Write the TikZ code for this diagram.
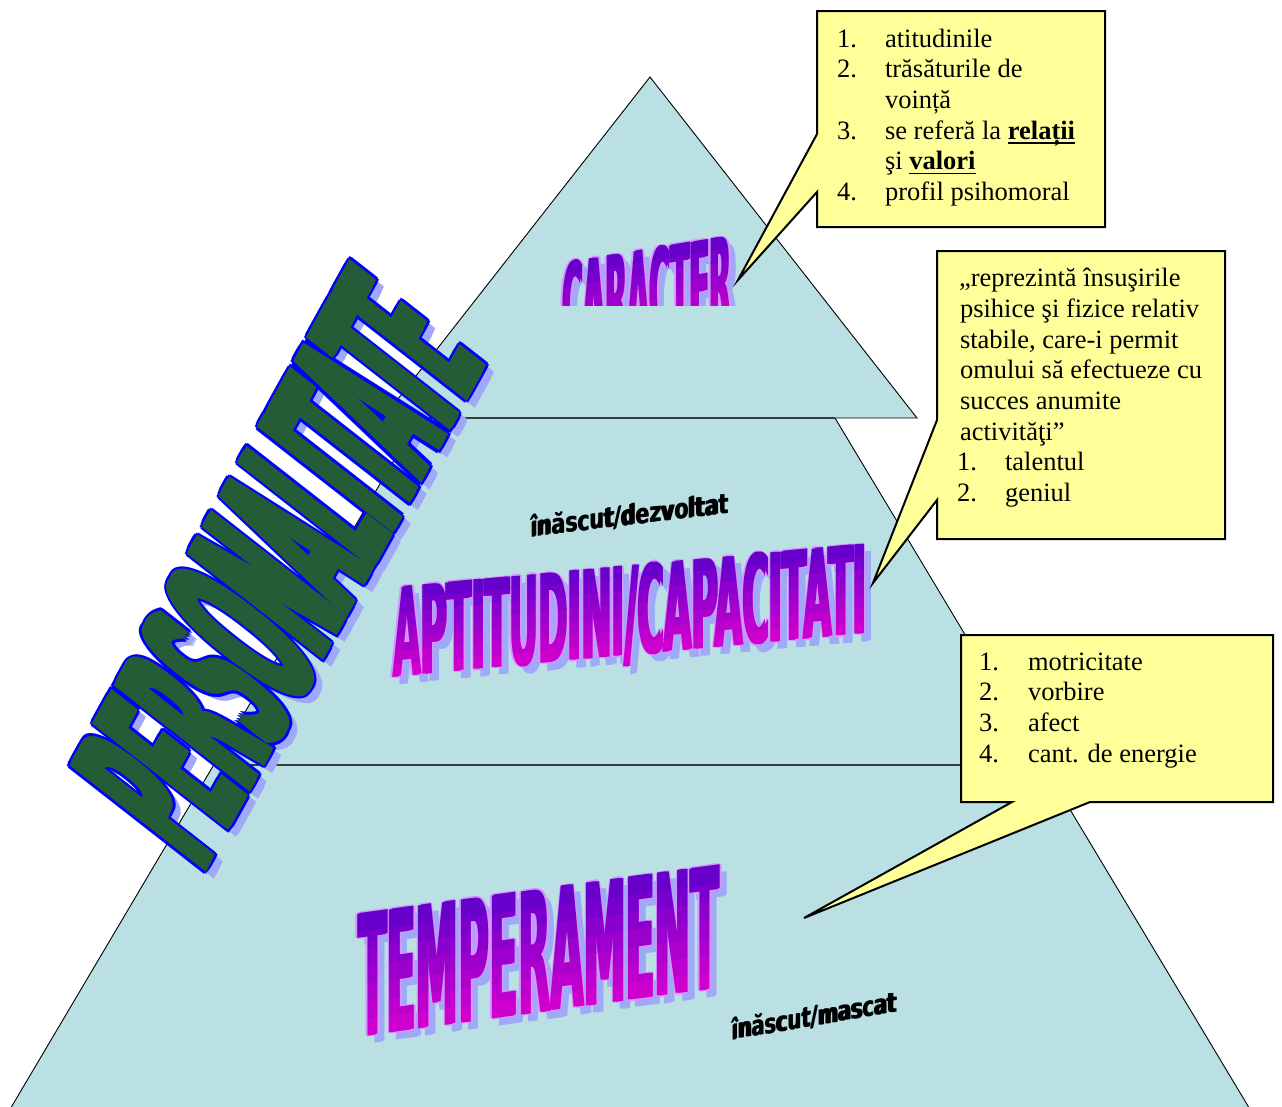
\documentclass[tikz,border=0pt]{standalone}
\usepackage{fontspec}
\usepackage{graphicx}
\setmainfont{Liberation Serif}
\newfontfamily\wafont{DejaVu Sans}
\definecolor{pyr}{RGB}{186,224,227}
\definecolor{note}{RGB}{255,255,153}
\definecolor{waviol}{RGB}{104,0,204}
\definecolor{wamag}{RGB}{206,0,206}
\definecolor{washad}{RGB}{160,168,248}
\definecolor{waline}{RGB}{214,150,255}
\definecolor{marble}{RGB}{36,92,55}
\definecolor{edgegray}{RGB}{55,60,60}
\newcommand\myul[1]{\setbox0\hbox{#1}\rlap{\rule[-4.5pt]{\wd0}{1.8pt}}\box0}
% overlapping copies of one text inside one box (used to make strokes heavier)
\newcommand\offcopies[2]{\foreach \mdx/\mdy in {#1}{\rlap{\hspace*{\mdx pt}\raisebox{\mdy pt}{#2}}}\phantom{#2}}
\tikzset{
  wabox/.style={anchor=base west, inner sep=0pt, outer sep=0pt, transform shape},
  notebox/.style={fill=note, draw=black, line width=2pt, line join=miter},
  ntext/.style={anchor=base west, inner sep=0pt, outer sep=0pt, font=\fontsize{26.5}{30.7}\selectfont},
  level/.style={fill=pyr, draw=black, line width=0.9pt, line join=miter},
}
% #1 name, #2 x, #3 y, #4 slant, #5 W, #6 H, #7 text
\newcommand\purpleart[7]{%
  \begin{scope}[shift={(#2,#3)}, y=1pt, yslant=#4]
    \node[wabox, text=washad] (#1-shadow) at (7,-8)
      {\offcopies{0/0,2.8/0}{\resizebox{#5pt}{#6pt}{\wafont\bfseries #7}}};
    \node[wabox, text=waline] (#1-line) at (0,0)
      {\offcopies{-1.3/0,4.1/0,0.4/1.3,0.4/-1.3,2.4/1.3,2.4/-1.3}{\resizebox{#5pt}{#6pt}{\wafont\bfseries #7}}};
    \foreach \k in {0,...,6}{
      \pgfmathtruncatemacro\pct{100*\k/6}
      \pgfmathsetmacro\ya{#6*\k/7-(\k==0)*40}
      \pgfmathsetmacro\yb{#6*(\k+1)/7+(\k==6)*40}
      \begin{scope}
        \clip (-10,\ya) rectangle ({#5+20},\yb);
        \colorlet{bandc}{waviol!\pct!wamag}
        \node[wabox, text=bandc] (#1-band\k) at (0,0)
          {\offcopies{0/0,2.8/0}{\resizebox{#5pt}{#6pt}{\wafont\bfseries #7}}};
      \end{scope}}
  \end{scope}}
\begin{document}
\begin{tikzpicture}[x=1pt,y=-1pt]
\useasboundingbox (0,0) rectangle (1282,1106);
\fill[white] (0,0) rectangle (1282,1106);
\clip (0,0) rectangle (1282,1106);
% pyramid
\coordinate (apex) at (650,77);
\coordinate (tl) at (383,418);
\coordinate (tr) at (917,418);
\coordinate (ml) at (419,418);
\coordinate (mr) at (835,418);
\coordinate (bl) at (213.7,765);
\coordinate (br) at (1043.3,765);
\coordinate (fl) at (8.4,1112);
\coordinate (fr) at (1251.6,1112);
\draw[level] (ml) -- (mr) -- (br) -- (bl) -- cycle;
\draw[level] (bl) -- (br) -- (fr) -- (fl) -- cycle;
\draw[level] (apex) -- (tr) -- (tl) -- cycle;
\draw[edgegray, line width=2pt] (ml) -- (mr);
\draw[edgegray, line width=1.8pt] (bl) -- (br);
% word art on the levels
\begin{scope}
  \clip (540,200) rectangle (760,305);
  \purpleart{car}{561}{352}{0.164}{169}{90}{CARACTER}
\end{scope}
\purpleart{apt}{392}{677}{0.092}{473}{91}{APTITUDINI/CAPACITATI}
\purpleart{tem}{357}{1037}{0.135}{361}{123}{TEMPERAMENT}
\begin{scope}[shift={(530,537)}, y=1pt, yslant=0.12]
  \node[wabox] (lab1) at (0,0) {\offcopies{0/0,1.5/0}{\resizebox{198pt}{22pt}{\wafont\bfseries înăscut/dezvoltat}}};
\end{scope}
\begin{scope}[shift={(731,1040)}, y=1pt, yslant=0.17]
  \node[wabox] (lab2) at (0,0) {\offcopies{0/0,1.5/0}{\resizebox{165pt}{22pt}{\wafont\bfseries înăscut/mascat}}};
\end{scope}
% PERSONALITATE
\begin{scope}[shift={(211,884)}, y=1pt, rotate=52, yslant=0.158]
  \node[wabox, text=washad] (pers-shadow) at (0,0)
    {\offcopies{0/0,2.5/0,5/0,7.5/0}{\resizebox{575pt}{176pt}{\wafont\bfseries PERSONALITATE}}};
\end{scope}
\begin{scope}[shift={(203,877)}, y=1pt, rotate=52, yslant=0.158]
  \node[wabox, text=blue] (pers-edge) at (0,0)
    {\offcopies{-2.5/0,10/0,-1.5/2,9/2,-1.5/-2,9/-2,1.5/2.5,4.5/2.5,7/2.5,1.5/-2.5,4.5/-2.5,7/-2.5}{\resizebox{575pt}{176pt}{\wafont\bfseries PERSONALITATE}}};
  \node[wabox, text=marble] (pers) at (0,0)
    {\offcopies{0/0,2.5/0,5/0,7.5/0}{\resizebox{575pt}{176pt}{\wafont\bfseries PERSONALITATE}}};
\end{scope}
% callouts
\draw[notebox] (817,11) -- (1105,11) -- (1105,227) -- (817,227) -- (817,192) -- (738,280) -- (817,134) -- cycle;
\draw[notebox] (937,251) -- (1225,251) -- (1225,539) -- (937,539) -- (937,500) -- (873,583) -- (937,420) -- cycle;
\draw[notebox] (961,635) -- (1273,635) -- (1273,802) -- (1090,802) -- (804,918) -- (1012,802) -- (961,802) -- cycle;
% callout 1 text
\node[ntext] (c1n1) at (837,47) {1.};
\node[ntext] (c1t1) at (885,47) {atitudinile};
\node[ntext] (c1n2) at (837,77.7) {2.};
\node[ntext] (c1t2) at (885,77.7) {trăsăturile de};
\node[ntext] (c1t2b) at (885,108.4) {voință};
\node[ntext] (c1n3) at (837,139.1) {3.};
\node[ntext] (c1t3) at (885,139.1) {se referă la \textbf{\myul{relații}}};
\node[ntext] (c1t3b) at (885,169.8) {şi \textbf{\myul{valori}}};
\node[ntext] (c1n4) at (837,200.5) {4.};
\node[ntext] (c1t4) at (885,200.5) {profil psihomoral};
% callout 2 text
\node[ntext] (c2l1) at (959,286.7) {„reprezintă însuşirile};
\node[ntext] (c2l2) at (960,317.4) {psihice şi fizice relativ};
\node[ntext] (c2l3) at (960,348.1) {stabile, care-i permit};
\node[ntext] (c2l4) at (960,378.8) {omului să efectueze cu};
\node[ntext] (c2l5) at (960,409.5) {succes anumite};
\node[ntext] (c2l6) at (960,440.2) {activităţi”};
\node[ntext] (c2n1) at (957,470.9) {1.};
\node[ntext] (c2t1) at (1005,470.9) {talentul};
\node[ntext] (c2n2) at (957,501.6) {2.};
\node[ntext] (c2t2) at (1005,501.6) {geniul};
% callout 3 text
\node[ntext] (c3n1) at (979,670) {1.};
\node[ntext] (c3t1) at (1028,670) {motricitate};
\node[ntext] (c3n2) at (979,700.9) {2.};
\node[ntext] (c3t2) at (1028,700.9) {vorbire};
\node[ntext] (c3n3) at (979,731.8) {3.};
\node[ntext] (c3t3) at (1028,731.8) {afect};
\node[ntext] (c3n4) at (979,762.7) {4.};
\node[ntext] (c3t4) at (1028,762.7) {cant. de energie};
\end{tikzpicture}
\end{document}
